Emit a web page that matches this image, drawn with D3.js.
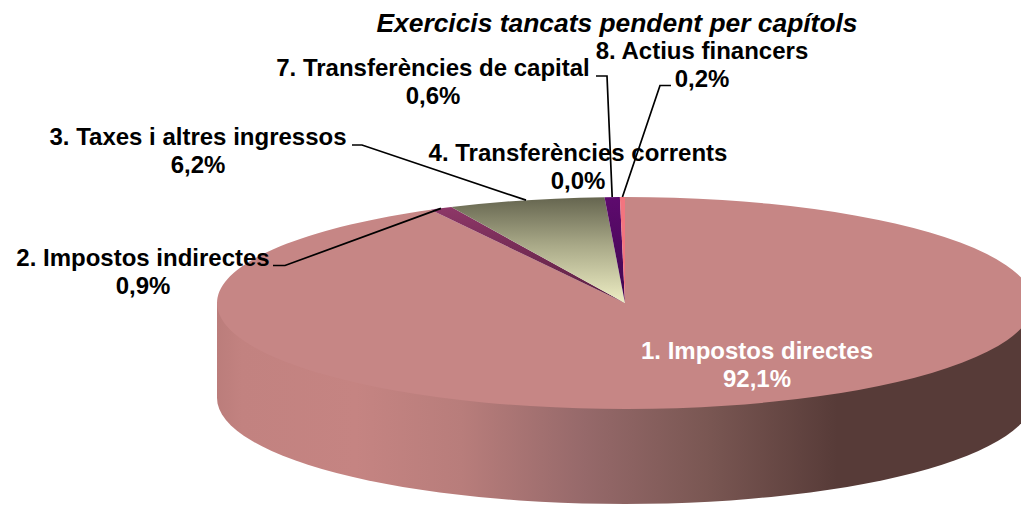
<!DOCTYPE html>
<html>
<head>
<meta charset="utf-8">
<script src="https://cdn.jsdelivr.net/npm/d3@7"></script>
<style>
  html, body { margin: 0; padding: 0; background: #fff; }
  svg { display: block; font-family: "Liberation Sans", Arial, sans-serif; }
</style>
</head>
<body>
<svg id="chart" width="1021" height="505"></svg>
<script>
// clockwise from 12 o'clock
var categories = ["1. Impostos directes", "2. Impostos indirectes", "3. Taxes i altres ingressos",
  "4. Transferències corrents", "7. Transferències de capital", "8. Actius financers"];
var shares = [92.1, 0.9, 6.2, 0.0, 0.6, 0.2];
var shareLabels = ["92,1%", "0,9%", "6,2%", "0,0%", "0,6%", "0,2%"];
var sliceColours = ["#c68685", "url(#slice2-grad)", "url(#slice3-grad)", "#4f7f5f", "url(#slice7-grad)", "#f2757f"];

var PIE = { cx: 625, cy: 303, rx: 408, ry: 106, depth: 95 };
var TITLE = { x: 617, y: 32, size: 26.4 };
var LABEL_SIZE = 24;
var LINE_GAP = 28;

// centre x, first baseline, elbow and line end (x, y) for the leader lines
var labelLayout = [
  { x: 757, y: 358.5, colour: "#fff" },
  { x: 143, y: 265.5, elbowX: 285, endX: 273, endY: 265.5 },
  { x: 198, y: 145, elbowX: 362, endX: 352, endY: 145 },
  { x: 578, y: 161 },
  { x: 433, y: 76, elbowX: 607, endX: 596, endY: 76 },
  { x: 702, y: 59, elbowX: 660, endX: 671, endY: 85.5 }
];

var svg = d3.select("#chart");
var defs = svg.append("defs");

function linearGradient(id, x1, y1, x2, y2, stops) {
  var g = defs.append("linearGradient")
    .attr("id", id)
    .attr("gradientUnits", "userSpaceOnUse")
    .attr("x1", x1).attr("y1", y1)
    .attr("x2", x2).attr("y2", y2);
  stops.forEach(function(s) {
    g.append("stop").attr("offset", s[0]).attr("stop-color", s[1]);
  });
}

var wallLeft = PIE.cx - PIE.rx;
linearGradient("wall-grad", wallLeft, 0, PIE.cx + PIE.rx, 0, [
  [0, "#bb7d7b"],
  [0.03, "#c28280"],
  [0.17, "#c58482"],
  [0.30, "#b87d7b"],
  [0.45, "#96696a"],
  [0.60, "#7a5753"],
  [0.76, "#573b38"],
  [1, "#573b38"]
]);

// gradients live in the pie's scaled coordinates (radius = PIE.rx)
linearGradient("slice3-grad", 0, -PIE.rx, 0, 0, [[0, "#65654f"], [0.45, "#a8a887"], [1, "#eeeec4"]]);
linearGradient("slice2-grad", 0, -PIE.rx, 0, 0, [[0, "#933a6c"], [1, "#5a1f40"]]);
linearGradient("slice7-grad", 0, -PIE.rx, 0, 0, [[0, "#5e0a6e"], [1, "#3f0850"]]);

// front wall: lower half of the ellipse, pushed down by the depth
var wall = d3.path();
wall.moveTo(PIE.cx - PIE.rx, PIE.cy);
wall.lineTo(PIE.cx - PIE.rx, PIE.cy + PIE.depth);
var wallSteps = d3.range(0, 181, 3);
wallSteps.forEach(function(deg) {
  var a = deg * Math.PI / 180;
  wall.lineTo(PIE.cx - PIE.rx * Math.cos(a), PIE.cy + PIE.depth + PIE.ry * Math.sin(a));
});
wall.lineTo(PIE.cx + PIE.rx, PIE.cy);
wall.closePath();

svg.append("path")
  .attr("d", wall.toString())
  .attr("fill", "url(#wall-grad)");

var pie = d3.pie().sort(null);
var arcs = pie(shares);
var arc = d3.arc().innerRadius(0).outerRadius(PIE.rx);

svg.append("g")
  .attr("transform", "translate(" + PIE.cx + "," + PIE.cy + ") scale(1," + (PIE.ry / PIE.rx) + ")")
  .selectAll("path")
  .data(arcs)
  .enter()
  .append("path")
  .attr("d", arc)
  .attr("fill", function(d, i) { return sliceColours[i]; });

function rimPoint(d) {
  var mid = (d.startAngle + d.endAngle) / 2;
  return [PIE.cx + PIE.rx * Math.sin(mid), PIE.cy - PIE.ry * Math.cos(mid)];
}

var labels = svg.append("g");

arcs.forEach(function(d, i) {
  var l = labelLayout[i];
  var t = labels.append("text")
    .attr("text-anchor", "middle")
    .attr("font-size", LABEL_SIZE)
    .attr("font-weight", "bold")
    .attr("fill", l.colour || "#000");
  t.append("tspan").attr("x", l.x).attr("y", l.y).text(categories[i]);
  t.append("tspan").attr("x", l.x).attr("y", l.y + LINE_GAP).text(shareLabels[i]);
});

// leader lines go on top of the labels, like in the original
arcs.forEach(function(d, i) {
  var l = labelLayout[i];
  if (l.elbowX === undefined) return;
  var p = rimPoint(d);
  svg.append("polyline")
    .attr("points", [p, [l.elbowX, l.endY], [l.endX, l.endY]].join(" "))
    .attr("fill", "none")
    .attr("stroke", "#000")
    .attr("stroke-width", 1.7);
});

svg.append("text")
  .attr("x", TITLE.x)
  .attr("y", TITLE.y)
  .attr("text-anchor", "middle")
  .attr("font-size", TITLE.size)
  .attr("font-weight", "bold")
  .attr("font-style", "italic")
  .text("Exercicis tancats pendent per capítols");
</script>
</body>
</html>
